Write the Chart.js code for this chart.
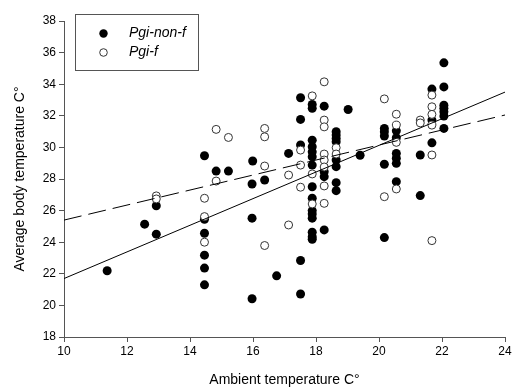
<!DOCTYPE html>
<html>
<head>
<meta charset="utf-8">
<script src="https://cdn.jsdelivr.net/npm/chart.js@4.4.0/dist/chart.umd.min.js"></script>
<style>
  html, body { margin: 0; padding: 0; background: #fff; }
  #wrap { width: 516px; height: 391px; }
</style>
</head>
<body>
<div id="wrap"><canvas id="chart" width="516" height="391"></canvas></div>
<script>
// Datos: Pgi-non-f (círculos negros)
const nonFX = [11.37, 12.56, 12.93, 12.93, 14.46, 14.46, 14.46, 14.46, 14.46, 14.46,
    14.83, 15.22, 15.97, 16.37, 15.97, 17.51, 16.75, 17.51, 15.97, 15.99,
    17.13, 17.51, 17.51, 17.51,
    17.88, 17.88, 17.88, 17.88, 17.88, 17.88, 17.88, 17.88, 17.88, 17.88, 17.88, 17.88, 17.88, 17.88, 17.88,
    18.26, 18.26, 18.26, 18.26,
    18.64, 18.64, 18.64, 18.64, 18.64, 18.64, 18.64, 18.64,
    19.02, 19.4,
    20.17, 20.17, 20.17, 20.17, 20.17,
    20.55, 20.55, 20.55, 20.55, 20.55, 20.55,
    21.31, 21.31,
    21.68, 21.68, 21.68,
    22.06, 22.06, 22.06, 22.06, 22.06, 22.06, 22.06];
const nonFY = [22.19, 25.14, 26.31, 24.51, 25.45, 24.57, 23.18, 22.36, 21.3, 29.47,
    28.5, 28.5, 27.68, 27.94, 25.52, 22.84, 21.87, 20.72, 20.42, 29.14,
    29.62, 30.15, 33.14, 31.77,
    32.72, 32.47, 30.46, 30.04, 29.72, 29.41, 28.88, 27.51, 26.78, 26.0, 25.79, 25.52, 24.63, 24.35, 24.19,
    32.61, 28.46, 28.15, 24.78,
    30.99, 30.78, 30.57, 30.36, 29.2, 28.78, 27.77, 27.26,
    32.4, 29.5,
    31.2, 30.99, 30.72, 28.93, 24.29,
    31.05, 30.61, 29.62, 29.31, 28.99, 27.83,
    29.52, 26.95,
    33.69, 31.73, 30.29,
    35.35, 33.83, 32.67, 32.47, 32.25, 31.98, 31.2];

// Datos: Pgi-f (círculos blancos)
const fX = [12.93, 12.93, 14.46, 14.46, 14.46, 14.83, 15.22, 14.83, 17.13, 17.51,
    17.13, 16.37, 16.37, 16.37, 16.37, 17.51, 17.51,
    17.88, 17.88, 17.88,
    18.26, 18.26, 18.26, 18.26, 18.26, 18.26, 18.26, 18.26,
    18.64, 18.64,
    20.17, 20.17,
    20.55, 20.55, 20.55, 20.55,
    21.31, 21.31,
    21.68, 21.68, 21.68, 21.68, 21.68, 21.68];
const fY = [26.93, 26.74, 26.78, 25.62, 24.0, 31.14, 30.63, 27.87, 28.25, 27.48,
    25.09, 23.79, 28.82, 31.2, 30.67, 29.83, 28.88,
    33.26, 28.32, 26.42,
    34.15, 31.73, 31.3, 29.58, 29.2, 28.76, 27.56, 26.46,
    29.98, 29.58,
    33.07, 26.88,
    32.1, 31.41, 30.32, 27.37,
    31.73, 31.55,
    33.31, 32.57, 32.09, 31.41, 29.52, 24.1];

// Rectas de regresión (extremos)
const fitSolidX = [10, 24];
const fitSolidY = [21.7, 33.5];
const fitDashX = [10, 24];
const fitDashY = [25.4, 32.05];

// Etiquetas
const legendLabels = ['Pgi-non-f', 'Pgi-f'];
const xTitle = 'Ambient temperature C°';
const yTitle = 'Average body temperature C°';

function toPoints(xs, ys) {
    return xs.map((x, i) => ({ x: x, y: ys[i] }));
}

const FONT = '"Liberation Sans", Arial, sans-serif';

// Leyenda dentro del área de dibujo
const boxLegend = {
    id: 'boxLegend',
    afterDraw(chart) {
        const ctx = chart.ctx;
        ctx.save();
        ctx.strokeStyle = '#555';
        ctx.lineWidth = 1;
        ctx.strokeRect(75.5, 14.5, 123, 56);
        // marcador negro
        ctx.fillStyle = '#000';
        ctx.beginPath();
        ctx.arc(103.5, 33.5, 4.2, 0, Math.PI * 2);
        ctx.fill();
        // marcador blanco
        ctx.fillStyle = '#fff';
        ctx.strokeStyle = '#333';
        ctx.beginPath();
        ctx.arc(103.5, 52.5, 3.8, 0, Math.PI * 2);
        ctx.fill();
        ctx.stroke();
        ctx.fillStyle = '#000';
        ctx.font = 'italic 14px ' + FONT;
        ctx.textBaseline = 'middle';
        ctx.fillText(legendLabels[0], 129, 33.5);
        ctx.fillText(legendLabels[1], 129, 52.5);
        ctx.restore();
    }
};

document.addEventListener('DOMContentLoaded', function() {
    const ctx = document.getElementById('chart').getContext('2d');
    new Chart(ctx, {
        type: 'scatter',
        data: {
            datasets: [
                {
                    type: 'line',
                    data: toPoints(fitSolidX, fitSolidY),
                    borderColor: '#000',
                    borderWidth: 1,
                    pointRadius: 0,
                    fill: false,
                    order: 0
                },
                {
                    type: 'line',
                    data: toPoints(fitDashX, fitDashY),
                    borderColor: '#000',
                    borderWidth: 1,
                    borderDash: [18, 7],
                    pointRadius: 0,
                    fill: false,
                    order: 0
                },
                {
                    label: legendLabels[1],
                    data: toPoints(fX, fY),
                    backgroundColor: '#fff',
                    borderColor: '#333',
                    borderWidth: 1,
                    pointRadius: 4,
                    order: 1
                },
                {
                    label: legendLabels[0],
                    data: toPoints(nonFX, nonFY),
                    backgroundColor: '#000',
                    borderColor: '#000',
                    borderWidth: 0,
                    pointRadius: 4.5,
                    order: 2
                }
            ]
        },
        options: {
            responsive: false,
            animation: false,
            layout: { padding: { left: 4, right: 11, top: 21, bottom: 2 } },
            plugins: {
                legend: { display: false },
                tooltip: { enabled: false }
            },
            scales: {
                x: {
                    type: 'linear',
                    min: 10,
                    max: 24,
                    ticks: { stepSize: 2, color: '#000', font: { family: FONT, size: 12 }, padding: 2 },
                    grid: { drawOnChartArea: false, drawTicks: true, tickLength: 5, color: '#555' },
                    border: { display: true, color: '#555' },
                    title: { display: true, text: xTitle, color: '#000', font: { family: FONT, size: 14 }, padding: { top: 12, bottom: 0 } },
                    afterFit(scale) { scale.height = 52; }
                },
                y: {
                    type: 'linear',
                    min: 18,
                    max: 38,
                    ticks: { stepSize: 2, color: '#000', font: { family: FONT, size: 12 }, padding: 3 },
                    grid: { drawOnChartArea: false, drawTicks: true, tickLength: 5, color: '#555' },
                    border: { display: true, color: '#555' },
                    title: { display: true, text: yTitle, color: '#000', font: { family: FONT, size: 14 }, padding: { top: 8, bottom: 0 } },
                    afterFit(scale) { scale.width = 60; }
                }
            }
        },
        plugins: [boxLegend]
    });
});
</script>
</body>
</html>
